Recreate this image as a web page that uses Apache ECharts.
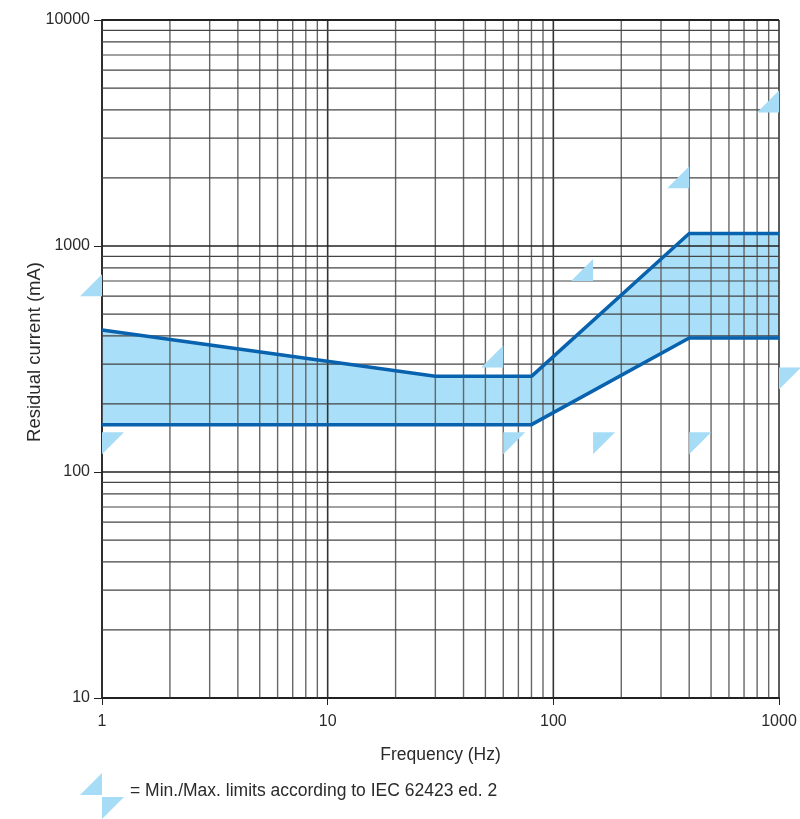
<!DOCTYPE html>
<html>
<head>
<meta charset="utf-8">
<script src="https://cdn.jsdelivr.net/npm/echarts@6/dist/echarts.min.js"></script>
<style>html,body{margin:0;padding:0;background:#fff}#chart{width:800px;height:819px}</style>
</head>
<body>
<div id="chart"></div>
<script>
// ---- data ----
const freqUpper = [1, 30, 80, 400, 1000];
const currentUpper = [425, 265, 265, 1135, 1135];
const freqLower = [1, 80, 400, 1000];
const currentLower = [162, 162, 392, 392];
const maxLimitFreq = [1, 60, 150, 400, 1000];
const maxLimitCurrent = [600, 290, 700, 1800, 3900];
const minLimitFreq = [1, 60, 150, 400, 1000];
const minLimitCurrent = [150, 150, 150, 150, 290];
const xMajorTicks = [1, 10, 100, 1000];
const yMajorTicks = [10, 100, 1000, 10000];
const minorMultipliers = [2, 3, 4, 5, 6, 7, 8, 9];
const legendText = '= Min./Max. limits according to IEC 62423 ed. 2';
const xName = 'Frequency (Hz)';
const yName = 'Residual current (mA)';

const FONT = "'Liberation Sans', Arial, Helvetica, sans-serif";
const FILL = '#a9dff8';
const LINE = '#0862ae';
const TRI = '#a6dcf6';
const TEXT = '#2a2a2a';

const xMinor = [], yMinor = [];
xMajorTicks.slice(0, -1).forEach(d => minorMultipliers.forEach(m => xMinor.push(d * m)));
yMajorTicks.slice(0, -1).forEach(d => minorMultipliers.forEach(m => yMinor.push(d * m)));

const zip = (a, b) => a.map((v, i) => [v, b[i]]);
const upperData = zip(freqUpper, currentUpper);
const lowerData = zip(freqLower, currentLower);

const gridLineItems = [];
xMinor.forEach(v => gridLineItems.push([v, 'v', 0]));
xMajorTicks.forEach(v => gridLineItems.push([v, 'v', 1]));
yMinor.forEach(v => gridLineItems.push([v, 'h', 0]));
yMajorTicks.forEach(v => gridLineItems.push([v, 'h', 1]));

const chart = echarts.init(document.getElementById('chart'), null, {renderer: 'canvas'});
const option = {
  animation: false,
  grid: {left: 102, right: 21, top: 20, bottom: 121},
  xAxis: {
    type: 'log', logBase: 10, min: 1, max: 1000,
    name: xName, nameLocation: 'middle', nameGap: 48,
    nameTextStyle: {fontFamily: FONT, fontSize: 17.5, color: TEXT},
    axisLine: {show: true, lineStyle: {color: '#222', width: 2}},
    axisTick: {show: true, length: 7, lineStyle: {color: '#222', width: 1}},
    axisLabel: {fontFamily: FONT, fontSize: 16, color: TEXT, margin: 16,
      formatter: v => String(Math.round(v))},
    splitLine: {show: false}, minorTick: {show: false}, minorSplitLine: {show: false}
  },
  yAxis: {
    type: 'log', logBase: 10, min: 10, max: 10000,
    name: yName, nameLocation: 'middle', nameGap: 58, nameRotate: 90,
    nameMoveOverlap: false,
    nameTextStyle: {fontFamily: FONT, fontSize: 18.5, color: TEXT, padding: [0, 0, 0, 14]},
    axisLine: {show: true, lineStyle: {color: '#222', width: 2}},
    axisTick: {show: true, length: 8, lineStyle: {color: '#222', width: 1}},
    axisLabel: {fontFamily: FONT, fontSize: 16, color: TEXT, margin: 12,
      showMinLabel: true, showMaxLabel: true,
      formatter: v => String(Math.round(v))},
    splitLine: {show: false}, minorTick: {show: false}, minorSplitLine: {show: false}
  },
  series: [
    {
      type: 'custom', name: 'band', z: 1, silent: true,
      data: [upperData[0]],
      renderItem: (params, api) => {
        const pts = upperData.map(p => api.coord(p))
          .concat(lowerData.slice().reverse().map(p => api.coord(p)));
        return {type: 'polygon', shape: {points: pts}, style: {fill: FILL}};
      }
    },
    {
      type: 'custom', name: 'grid', z: 2, silent: true,
      data: gridLineItems.map(g => g[1] === 'v' ? [g[0], 10, g[2]] : [1, g[0], g[2]]),
      renderItem: (params, api) => {
        const cs = params.coordSys;
        const item = gridLineItems[params.dataIndex];
        const major = item[2] === 1;
        if (item[1] === 'v') {
          const x = api.coord([item[0], 10])[0];
          return {type: 'line', shape: {x1: x, y1: cs.y, x2: x, y2: cs.y + cs.height},
            style: {stroke: major ? '#333' : '#666', lineWidth: major ? 1.6 : 1.4}};
        } else {
          const y = api.coord([1, item[0]])[1];
          const top = item[0] === yMajorTicks[yMajorTicks.length - 1];
          return {type: 'line', shape: {x1: cs.x, y1: y, x2: cs.x + cs.width, y2: y},
            style: {stroke: major ? '#222' : '#444', lineWidth: top ? 2.2 : (major ? 1.4 : 1.2)}};
        }
      }
    },
    {
      type: 'line', name: 'upper', z: 3, data: upperData, symbol: 'none',
      lineStyle: {color: LINE, width: 3.5}
    },
    {
      type: 'line', name: 'lower', z: 3, data: lowerData, symbol: 'none',
      lineStyle: {color: LINE, width: 3.5}
    },
    {
      type: 'custom', name: 'maxLimit', z: 4, clip: false,
      data: zip(maxLimitFreq, maxLimitCurrent),
      renderItem: (params, api) => {
        const p = api.coord([api.value(0), api.value(1)]);
        return {type: 'polygon', shape: {points: [[p[0], p[1]], [p[0], p[1] - 22], [p[0] - 22, p[1]]]},
          style: {fill: TRI}};
      }
    },
    {
      type: 'custom', name: 'minLimit', z: 4, clip: false,
      data: zip(minLimitFreq, minLimitCurrent),
      renderItem: (params, api) => {
        const p = api.coord([api.value(0), api.value(1)]);
        return {type: 'polygon', shape: {points: [[p[0], p[1]], [p[0] + 22, p[1]], [p[0], p[1] + 22]]},
          style: {fill: TRI}};
      }
    }
  ],
  graphic: [
    {type: 'polygon', shape: {points: [[102, 773], [102, 795], [80, 795]]}, style: {fill: TRI}},
    {type: 'polygon', shape: {points: [[102, 797], [124, 797], [102, 819]]}, style: {fill: TRI}},
    {type: 'text', left: 130, top: 782,
      style: {text: legendText, fontFamily: FONT, fontSize: 17.5, fill: TEXT}}
  ]
};
chart.setOption(option);
</script>
</body>
</html>
